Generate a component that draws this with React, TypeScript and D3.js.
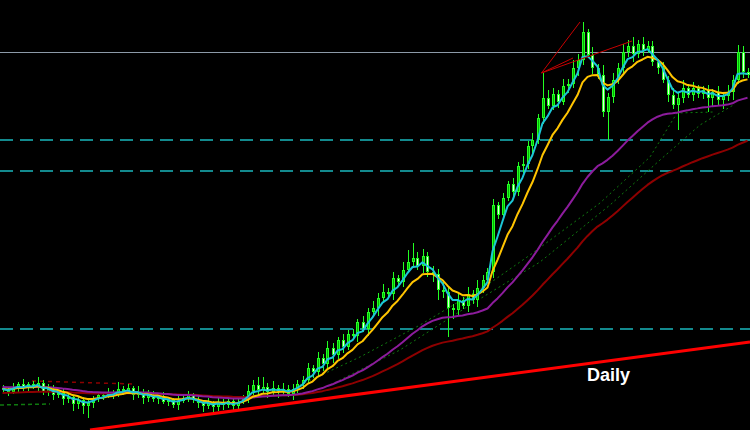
import React from "react";
import * as d3 from "d3";

const W = 750;
const H = 430;

// Daily closes (index units), 150 candles
const closes: number[] = [
  41, 38, 43, 46, 42, 46, 43, 47, 38, 41,
  35, 37, 31, 33, 26, 30, 24, 27, 31, 35,
  34, 38, 36, 41, 39, 42, 35, 38, 32, 35,
  31, 33, 28, 30, 25, 29, 32, 35, 30, 27,
  24, 27, 23, 28, 25, 29, 24, 28, 32, 39,
  45, 40, 43, 38, 42, 39, 41, 36, 41, 46,
  50, 62, 58, 72, 66, 82, 75, 90, 83, 96,
  94, 108, 101, 118, 122, 132, 138, 136, 152, 148,
  160, 168, 172, 164, 174, 158, 156, 140, 138, 122,
  120, 130, 124, 136, 130, 142, 150, 158, 225, 215,
  232, 246, 238, 264, 266, 284, 290, 312, 332, 324,
  336, 328, 344, 346, 362, 370, 398, 375, 362, 355,
  318, 333, 350, 362, 378, 384, 376, 386, 380, 384,
  368, 362, 350, 335, 325, 332, 342, 335, 342, 336,
  340, 332, 338, 330, 334, 338, 350, 378, 358, 355,
];
const firstOpen = 42;

// Upper / lower wick lengths (base-36 digits), one per candle
const upperWicks = [
  "3242523635", "4253243532", "3427342635", "4253253425", "3524352436",
  "58a4736454", "4536475364", "5364758463", "8cf67465a5", "4637485463",
  "53648574p8", "647586a384", "a475869475", "5364758463", "4536475764",
].join("");
const lowerWicks = [
  "3425342534", "5364758c53", "4253425364", "3524352435", "6374536425",
  "4536475364", "5364758463", "4637485364", "5364758a6t", "9536475364",
  "5364758463", "4637485364", "5s64758463", "46374p5364", "5e86958463",
].join("");

// Moving averages (EMA periods; slow ones start from the level seen at the left edge)
const maFast = { period: 4, color: "#1cc6d6" };
const maMid = { period: 9, color: "#ffc400" };
const maSlow = { period: 37, seed: 43, color: "#8c1c9c" };
const maLong = { period: 68, seed: 37, color: "#8e0000" };

// Horizontal levels
const solidLevels = [378];
const dashedLevels = [290, 259, 101];

// Trend lines [index, price]
const mainTrend: [number, number][] = [[17.5, 0], [149.5, 88]];
const peakLines: [number, number][][] = [
  [[107.8, 357], [115.5, 408]],
  [[107.8, 357], [125.9, 389]],
  [[107.8, 357], [114.1, 372]],
];
const redDotted: [number, number][] = [[5.9, 49], [26.1, 46]];
const greenDashedLeft: [number, number][] = [[-0.5, 25], [9.5, 26]];
const greenDotted1: [number, number][] = [
  [59.5, 45], [71.5, 73], [83.5, 105], [97.5, 147], [105.5, 175],
  [119.5, 227], [129.5, 273], [134.9, 317], [142.1, 318],
];
const greenDotted2: [number, number][] = [
  [65.5, 45], [79.5, 80], [93.5, 125], [107.5, 168], [121.5, 225],
  [131.5, 270], [139.5, 305], [146.5, 326],
];

function ema(values: number[], period: number, seed?: number): number[] {
  const a = 2 / (period + 1);
  const out: number[] = [];
  let e = seed ?? values[0];
  values.forEach((v, i) => {
    e = i === 0 && seed === undefined ? v : e + a * (v - e);
    out.push(e);
  });
  return out;
}

export default function App() {
  const n = closes.length;
  const x = d3.scaleLinear().domain([0, n - 1]).range([2.5, W - 2.5]);
  const y = d3.scaleLinear().domain([0, 430]).range([H, 0]);

  const candles = closes.map((c, i) => {
    const o = i === 0 ? firstOpen : closes[i - 1];
    const up = parseInt(upperWicks[i], 36);
    const lo = parseInt(lowerWicks[i], 36);
    const top = Math.max(o, c);
    const bot = Math.min(o, c);
    return { i, o, c, h: top + up, l: bot - lo, bull: c >= o };
  });

  const line = d3
    .line<number>()
    .x((_, i) => x(i))
    .y((d) => y(d));
  const pline = d3
    .line<[number, number]>()
    .x((d) => x(d[0]))
    .y((d) => y(d[1]));

  const mas = [
    { v: ema(closes, maLong.period, maLong.seed), color: maLong.color, w: 2 },
    { v: ema(closes, maSlow.period, maSlow.seed), color: maSlow.color, w: 2 },
    { v: ema(closes, maMid.period), color: maMid.color, w: 2 },
    { v: ema(closes, maFast.period), color: maFast.color, w: 2 },
  ];

  return (
    <div style={{ position: "fixed", left: 0, top: 0 }}>
      <svg width={W} height={H} style={{ display: "block", background: "#000" }}>
        <rect x={0} y={0} width={W} height={H} fill="#000" />
        {solidLevels.map((p) => (
          <line key={p} x1={0} x2={W} y1={Math.round(y(p)) + 0.5} y2={Math.round(y(p)) + 0.5} stroke="#8c9aa8" strokeWidth={1} />
        ))}
        {dashedLevels.map((p) => (
          <line key={p} x1={0} x2={W} y1={y(p)} y2={y(p)} stroke="#138a8e" strokeWidth={2} strokeDasharray="13 7" />
        ))}
        <path d={pline(greenDotted1) ?? ""} fill="none" stroke="#0f7a0f" strokeWidth={1} strokeDasharray="2 3" />
        <path d={pline(greenDotted2) ?? ""} fill="none" stroke="#0f7a0f" strokeWidth={1} strokeDasharray="2 3" />
        <path d={pline(greenDashedLeft) ?? ""} fill="none" stroke="#0f7a0f" strokeWidth={1.5} strokeDasharray="4 3" />
        <path d={pline(redDotted) ?? ""} fill="none" stroke="#8b0000" strokeWidth={1.5} strokeDasharray="4 4" />
        <g shapeRendering="crispEdges">
          {candles.map((d) => {
            const cx = Math.round(x(d.i));
            const yt = Math.round(y(Math.max(d.o, d.c)));
            const yb = Math.round(y(Math.min(d.o, d.c)));
            const bh = Math.max(1, yb - yt);
            return (
              <g key={d.i}>
                <rect x={cx - 0.5} y={Math.round(y(d.h))} width={1} height={Math.max(1, Math.round(y(d.l)) - Math.round(y(d.h)))} fill="#22ff22" />
                <rect x={cx - 1.5} y={yt} width={3} height={bh} fill="#22ff22" />
                {bh > 2 && (
                  <rect x={cx - 0.5} y={yt + 1} width={1} height={bh - 2} fill={d.bull ? "#00b400" : "#e4ffe0"} />
                )}
              </g>
            );
          })}
        </g>
        {mas.map((m, k) => (
          <path key={k} d={line(m.v) ?? ""} fill="none" stroke={m.color} strokeWidth={m.w} strokeLinejoin="round" />
        ))}
        {peakLines.map((l, k) => (
          <path key={k} d={pline(l) ?? ""} fill="none" stroke="#c80000" strokeWidth={1} />
        ))}
        <path d={pline(mainTrend) ?? ""} fill="none" stroke="#ff0000" strokeWidth={3} />
        <text x={587} y={381} fill="#ffffff" fontFamily="Liberation Sans, Arial, sans-serif" fontWeight="bold" fontSize={18}>
          Daily
        </text>
      </svg>
    </div>
  );
}
